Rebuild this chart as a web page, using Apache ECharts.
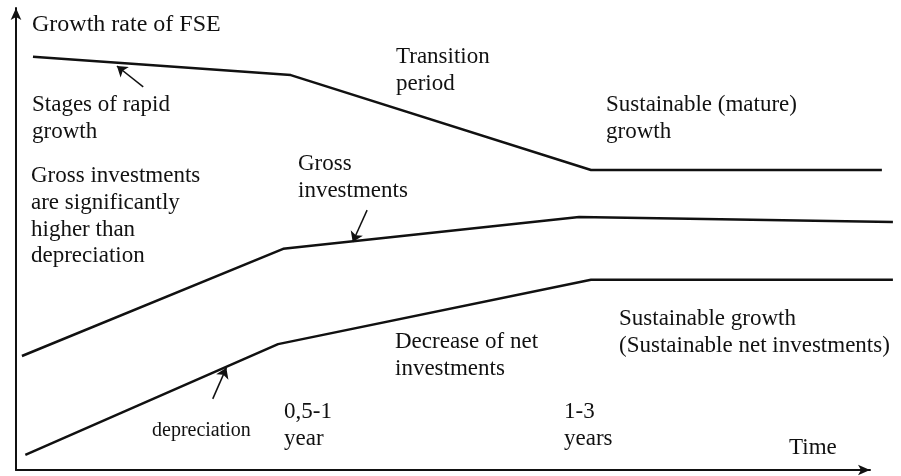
<!DOCTYPE html>
<html>
<head>
<meta charset="utf-8">
<title>Growth rate of FSE</title>
<script src="https://cdn.jsdelivr.net/npm/echarts@6/dist/echarts.min.js"></script>
<style>
  html, body { margin: 0; padding: 0; background: #fff; }
  #chart { width: 901px; height: 476px; }
</style>
</head>
<body>
<div id="chart"></div>
<script>
  // time (0..100) / growth (0..100), arbitrary units
  var growthLine = [[2, 90.6], [32.4, 86.6], [67.8, 65.8], [102.1, 65.8]];
  var grossLine = [[0.7, 25], [31.5, 48.5], [66.4, 55.5], [103.4, 54.4]];
  var deprLine = [[1.1, 3.3], [30.9, 27.6], [67.8, 41.7], [103.4, 41.7]];

  // pointer arrows: [from, to]
  var pointers = [
    [[15.0, 84.0], [11.9, 88.6]],
    [[41.4, 57.0], [39.7, 50.0]],
    [[23.2, 15.6], [24.8, 22.4]]
  ];

  var titleText = 'Growth rate of FSE';
  var timeText = 'Time';
  var notes = [
    'Stages of rapid\ngrowth',
    'Transition\nperiod',
    'Sustainable (mature)\ngrowth',
    'Gross investments\nare significantly\nhigher than\ndepreciation',
    'Gross\ninvestments',
    'Sustainable growth\n(Sustainable net investments)',
    'Decrease of net\ninvestments',
    '0,5-1\nyear',
    '1-3\nyears'
  ];
  var deprText = 'depreciation';

  var ink = '#111';
  var font = 'Liberation Serif, Times New Roman, serif';

  // where each note sits (left, top)
  var notePos = [
    [32, 92], [396, 44], [606, 92], [31, 163], [298, 151],
    [619, 306], [395, 329], [284, 399], [564, 399]
  ];

  var graphics = notes.map(function (t, i) {
    return {
      type: 'text',
      left: notePos[i][0],
      top: notePos[i][1],
      style: { text: t, font: '23px ' + font, fill: ink, lineHeight: 26.6 }
    };
  });
  graphics.push({
    type: 'text', left: 32, top: 11,
    style: { text: titleText, font: '24px ' + font, fill: ink, lineHeight: 26.5 }
  });
  graphics.push({
    type: 'text', left: 789, top: 435,
    style: { text: timeText, font: '23px ' + font, fill: ink, lineHeight: 26.5 }
  });
  graphics.push({
    type: 'text', left: 152, top: 421,
    style: { text: deprText, font: '20px ' + font, fill: ink, lineHeight: 20 }
  });

  function axis(gridIndex, max, visible) {
    return {
      type: 'value',
      gridIndex: gridIndex,
      min: 0,
      max: max,
      axisLine: {
        show: visible,
        onZero: false,
        symbol: ['none', 'arrow'],
        symbolSize: [8, 12],
        lineStyle: { color: ink, width: 2 }
      },
      axisTick: { show: false },
      axisLabel: { show: false },
      splitLine: { show: false }
    };
  }

  function mainLine(data) {
    return {
      type: 'line',
      xAxisIndex: 1,
      yAxisIndex: 1,
      data: data,
      symbol: 'none',
      silent: true,
      lineStyle: { color: ink, width: 2.5 }
    };
  }

  var chart = echarts.init(document.getElementById('chart'));
  chart.setOption({
    animation: false,
    // grid 0 carries the arrowed axes, grid 1 the curves (they run past the arrow)
    grid: [
      { left: 16, right: 31, top: 8, bottom: 6 },
      { left: 16, right: 3, top: 14, bottom: 6 }
    ],
    xAxis: [axis(0, 100, true), axis(1, 104, false)],
    yAxis: [axis(0, 100, true), axis(1, 100, false)],
    series: [
      mainLine(growthLine),
      mainLine(grossLine),
      mainLine(deprLine),
      {
        type: 'lines',
        coordinateSystem: 'cartesian2d',
        xAxisIndex: 1,
        yAxisIndex: 1,
        symbol: ['none', 'arrow'],
        symbolSize: 10,
        silent: true,
        lineStyle: { color: ink, width: 1.5, opacity: 1, curveness: 0 },
        data: pointers.map(function (p) { return { coords: p }; })
      }
    ],
    graphic: graphics
  });
</script>
</body>
</html>
